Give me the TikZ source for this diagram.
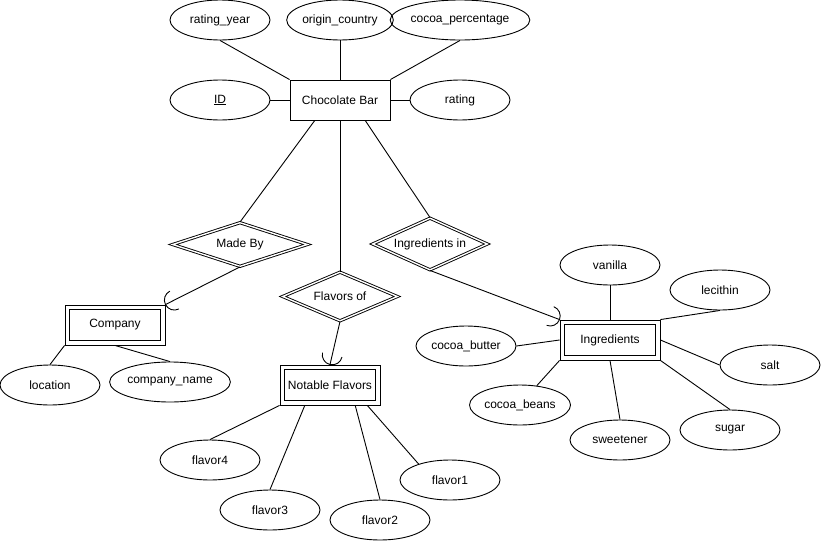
\documentclass[tikz,border=0pt]{standalone}
\usepackage{fontspec}
\setmainfont{Liberation Sans}
\usetikzlibrary{shapes.geometric,calc}
\tikzset{
  base/.style={draw, line width=0.9pt, inner sep=0pt, font=\fontsize{12}{14}\selectfont},
  attr/.style={base, ellipse, minimum width=100pt, minimum height=40pt},
  ent/.style={base, rectangle, minimum width=100pt, minimum height=40pt},
  weak/.style={base, rectangle, minimum width=100pt, minimum height=40pt},
  rel/.style={base, diamond, shape aspect=3, double, double distance=1.4pt},
  conn/.style={line width=0.9pt},
}
\newcommand{\sockarc}[2]{%
  \draw[conn] let \p1=($(#2)-(#1)$), \n1={atan2(\y1,\x1)} in
    ($(#1)+(\n1:10pt)+(\n1+90:10pt)$) arc[start angle=\n1+90, end angle=\n1+270, radius=10pt];}
\newcommand{\innerbox}[1]{%
  \draw[conn] ($(#1.north west)+(5,5)$) rectangle ($(#1.south east)+(-5,-5)$);}
\begin{document}
\begin{tikzpicture}[x=1pt,y=-1pt]
\useasboundingbox (0,0) rectangle (821,541);
% Chocolate Bar and attributes
\node[ent] (cb) at (340,100) {Chocolate Bar};
\node[attr] (ry) at (220,20) {rating\_year};
\node[attr] (oc) at (340,20) {origin\_country};
\node[attr] (cp) at (460,20) {cocoa\_percentage};
\node[attr] (id) at (220,100) {\underline{ID}};
\node[attr] (rt) at (460,100) {rating};
% relationships
\node[rel, minimum width=135pt, minimum height=44pt] (mb) at (240,244.5) {Made By};
\node[rel, minimum width=115pt, minimum height=49pt] (fo) at (340,296.5) {Flavors of};
\node[rel, minimum width=115pt, minimum height=52pt] (ii) at (430,244) {Ingredients in};
% weak entities
\node[weak] (co) at (115,325) {Company};
\node[weak] (nf) at (330,385) {Notable Flavors};
\node[weak] (ing) at (610,340) {Ingredients};
\innerbox{co}
\innerbox{nf}
\innerbox{ing}
% company attributes
\node[attr] (loc) at (50,385) {location};
\node[attr] (cn) at (170,382) {company\_name};
% flavor attributes
\node[attr] (f4) at (210,460) {flavor4};
\node[attr] (f3) at (270,510) {flavor3};
\node[attr] (f2) at (380,520) {flavor2};
\node[attr] (f1) at (450,480) {flavor1};
% ingredient attributes
\node[attr] (va) at (610,265) {vanilla};
\node[attr] (le) at (720,290) {lecithin};
\node[attr] (sa) at (770,365) {salt};
\node[attr] (su) at (730,430) {sugar};
\node[attr] (sw) at (620,440) {sweetener};
\node[attr] (be) at (520,405) {cocoa\_beans};
\node[attr] (bu) at (466,346) {cocoa\_butter};
% helper coordinates
\coordinate (cbL) at ($(cb.south west)!0.25!(cb.south east)$);
\coordinate (cbR) at ($(cb.south west)!0.75!(cb.south east)$);
\coordinate (nf3) at ($(nf.south west)!0.25!(nf.south east)$);
\coordinate (nf2) at ($(nf.south west)!0.75!(nf.south east)$);
\coordinate (nf1) at ($(nf.south west)!0.87!(nf.south east)$);
% connectors
\draw[conn] (ry.south) -- (cb.north west);
\draw[conn] (oc.south) -- (cb.north);
\draw[conn] (cp.south) -- (cb.north east);
\draw[conn] (id.east) -- (cb.west);
\draw[conn] (rt.west) -- (cb.east);
\draw[conn] (cbL) -- (mb.north);
\draw[conn] (cb.south) -- (fo.north);
\draw[conn] (cbR) -- (ii.north);
\draw[conn] (mb.south) -- (co.north east);
\sockarc{co.north east}{mb.south}
\draw[conn] (fo.south) -- (nf.north);
\sockarc{nf.north}{fo.south}
\draw[conn] (ii.south) -- (ing.north west);
\sockarc{ing.north west}{ii.south}
\draw[conn] (co.south west) -- (loc.north);
\draw[conn] (co.south) -- (cn.north);
\draw[conn] (nf.south west) -- (f4.north);
\draw[conn] (nf3) -- (f3.north);
\draw[conn] (nf2) -- (f2.north);
\draw[conn] (nf1) -- (f1.153);
\draw[conn] (va.south) -- (ing.north);
\draw[conn] (le.south) -- (ing.north east);
\draw[conn] (ing.east) -- (sa.west);
\draw[conn] (ing.south east) -- (su.north);
\draw[conn] (ing.south) -- (sw.north);
\draw[conn] (ing.south west) -- (be.49);
\draw[conn] (bu.east) -- (ing.west);
\end{tikzpicture}
\end{document}
